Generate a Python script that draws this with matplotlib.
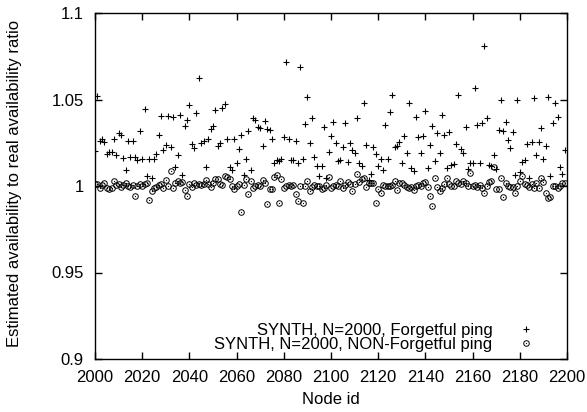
import matplotlib
matplotlib.use("Agg")
import matplotlib.pyplot as plt
from matplotlib.lines import Line2D
from matplotlib.legend_handler import HandlerTuple

plt.rcParams['font.family'] = ['Liberation Sans', 'DejaVu Sans']

# ---- data ----
forget_nodes = [2000, 2001, 2002, 2003, 2004, 2005, 2006, 2007, 2008, 2009,
                2010, 2011, 2012, 2013, 2014, 2015, 2016, 2017, 2018, 2019,
                2020, 2021, 2022, 2023, 2024, 2025, 2026, 2027, 2028, 2029,
                2030, 2031, 2032, 2033, 2034, 2035, 2036, 2037, 2038, 2039,
                2040, 2041, 2042, 2043, 2044, 2045, 2046, 2047, 2048, 2049,
                2050, 2051, 2052, 2053, 2054, 2055, 2056, 2057, 2058, 2059,
                2060, 2061, 2062, 2063, 2064, 2065, 2066, 2067, 2068, 2069,
                2070, 2071, 2072, 2073, 2074, 2075, 2076, 2077, 2078, 2079,
                2080, 2081, 2082, 2083, 2084, 2085, 2086, 2087, 2088, 2089,
                2090, 2091, 2092, 2093, 2094, 2095, 2096, 2097, 2098, 2099,
                2100, 2101, 2102, 2103, 2104, 2105, 2106, 2107, 2108, 2109,
                2110, 2111, 2112, 2113, 2114, 2115, 2116, 2117, 2118, 2119,
                2120, 2121, 2122, 2123, 2124, 2125, 2126, 2127, 2128, 2129,
                2130, 2131, 2132, 2133, 2134, 2135, 2136, 2137, 2138, 2139,
                2140, 2141, 2142, 2143, 2144, 2145, 2146, 2147, 2148, 2149,
                2150, 2151, 2152, 2153, 2154, 2155, 2156, 2157, 2158, 2159,
                2160, 2161, 2162, 2163, 2164, 2165, 2166, 2167, 2168, 2169,
                2170, 2171, 2172, 2173, 2174, 2175, 2176, 2177, 2178, 2179,
                2180, 2181, 2182, 2183, 2184, 2185, 2186, 2187, 2188, 2189,
                2190, 2191, 2192, 2193, 2194, 2195, 2196, 2197, 2198, 2199]
forget_vals = [1.0202, 1.0523, 1.0262, 1.0272, 1.0256, 1.0183, 1.0195, 1.0198, 1.0272, 1.0179,
               1.0304, 1.0295, 1.0160, 1.0092, 1.0260, 1.0170, 1.0262, 1.0170, 1.0150, 1.0320,
               1.0154, 1.0443, 1.0058, 1.0158, 1.0044, 1.0158, 1.0183, 1.0295, 1.0405, 1.0208,
               1.0237, 1.0405, 1.0224, 1.0400, 1.0108, 1.0178, 1.0410, 1.0064, 1.0347, 1.0380,
               1.0468, 1.0243, 1.0222, 1.0424, 1.0622, 1.0247, 1.0260, 1.0112, 1.0272, 1.0330,
               1.0349, 1.0439, 1.0231, 1.0250, 1.0449, 1.0472, 1.0274, 1.0112, 1.0095, 1.0274,
               1.0131, 1.0212, 1.0295, 1.0064, 1.0158, 1.0318, 1.0092, 1.0391, 1.0382, 1.0339,
               1.0335, 1.0233, 1.0378, 1.0328, 1.0324, 1.0272, 1.0131, 1.0148, 1.0146, 1.0154,
               1.0285, 1.0719, 1.0272, 1.0150, 1.0150, 1.0260, 1.0131, 1.0686, 1.0154, 1.0356,
               1.0513, 1.0247, 1.0391, 1.0166, 1.0116, 1.0060, 1.0116, 1.0339, 1.0044, 1.0198,
               1.0291, 1.0372, 1.0250, 1.0146, 1.0150, 1.0227, 1.0362, 1.0141, 1.0250, 1.0208,
               1.0193, 1.0391, 1.0131, 1.0116, 1.0482, 1.0237, 1.0035, 1.0069, 1.0224, 1.0185,
               1.0118, 1.0154, 1.0092, 1.0353, 1.0154, 1.0430, 1.0526, 1.0227, 1.0231, 1.0256,
               1.0135, 1.0289, 1.0189, 1.0478, 1.0102, 1.0089, 1.0401, 1.0281, 1.0189, 1.0289,
               1.0435, 1.0102, 1.0237, 1.0347, 1.0146, 1.0304, 1.0189, 1.0410, 1.0293, 1.0102,
               1.0314, 1.0121, 1.0127, 1.0243, 1.0526, 1.0212, 1.0189, 1.0343, 1.0096, 1.0131,
               1.0131, 1.0568, 1.0353, 1.0131, 1.0362, 1.0810, 1.0391, 1.0121, 1.0116, 1.0179,
               1.0096, 1.0324, 1.0497, 1.0318, 1.0372, 1.0266, 1.0218, 1.0314, 1.0064, 1.0497,
               1.0083, 1.0141, 1.0150, 1.0243, 1.0044, 1.0256, 1.0507, 1.0179, 1.0256, 1.0333,
               1.0154, 1.0231, 1.0513, 1.0058, 1.0362, 1.0482, 1.0401, 1.0108, 1.0069, 1.0208]

nonforget_nodes = list(range(2000, 2200))
nonforget_vals = [1.0010, 1.0010, 0.9987, 1.0006, 1.0015, 0.9987, 0.9980, 0.9987, 1.0030, 1.0006,
                  1.0010, 0.9996, 1.0006, 1.0020, 1.0000, 0.9996, 1.0006, 0.9942, 1.0000, 1.0010,
                  1.0000, 1.0010, 1.0020, 0.9919, 0.9973, 0.9987, 0.9996, 1.0006, 1.0010, 0.9987,
                  1.0035, 1.0000, 1.0087, 0.9987, 1.0020, 1.0030, 1.0020, 1.0025, 0.9977, 0.9942,
                  1.0010, 0.9996, 1.0020, 1.0006, 1.0010, 1.0006, 1.0010, 1.0035, 1.0010, 0.9992,
                  1.0020, 1.0040, 1.0039, 1.0010, 1.0006, 1.0058, 1.0054, 1.0039, 1.0000, 0.9980,
                  1.0000, 1.0010, 0.9852, 1.0006, 1.0039, 0.9954, 1.0030, 0.9987, 1.0000, 1.0006,
                  1.0000, 1.0035, 1.0015, 0.9895, 0.9985, 0.9980, 1.0050, 1.0064, 0.9904, 1.0039,
                  0.9987, 1.0000, 1.0006, 1.0000, 1.0006, 0.9954, 0.9915, 1.0000, 0.9900, 1.0000,
                  1.0030, 0.9973, 0.9996, 1.0006, 1.0000, 1.0000, 0.9980, 0.9987, 1.0006, 1.0054,
                  0.9987, 1.0000, 1.0006, 1.0000, 1.0030, 0.9987, 1.0006, 1.0025, 1.0010, 0.9973,
                  1.0010, 1.0067, 1.0025, 1.0039, 1.0044, 0.9992, 1.0015, 1.0020, 1.0015, 0.9904,
                  0.9980, 0.9961, 1.0006, 1.0000, 1.0000, 1.0000, 1.0006, 1.0030, 0.9977, 1.0015,
                  1.0015, 1.0006, 0.9996, 0.9987, 0.9996, 0.9977, 1.0000, 1.0006, 1.0000, 1.0020,
                  1.0025, 0.9996, 0.9942, 0.9884, 1.0044, 0.9996, 0.9973, 0.9987, 1.0010, 1.0044,
                  1.0010, 1.0000, 1.0000, 1.0030, 1.0020, 1.0010, 1.0030, 1.0020, 1.0000, 1.0073,
                  1.0000, 1.0006, 0.9996, 1.0006, 0.9987, 0.9961, 1.0000, 1.0025, 1.0030, 1.0108,
                  0.9980, 0.9980, 1.0044, 0.9938, 1.0015, 1.0000, 0.9992, 0.9992, 0.9958, 1.0000,
                  1.0030, 1.0058, 1.0010, 1.0006, 0.9992, 1.0010, 0.9987, 1.0015, 0.9987, 1.0044,
                  1.0025, 0.9961, 0.9929, 0.9938, 1.0000, 1.0000, 0.9987, 1.0000, 1.0015, 1.0015]

label_forget = "SYNTH, N=2000, Forgetful ping"
label_nonforget = "SYNTH, N=2000, NON-Forgetful ping"
x_ticks = [2000, 2020, 2040, 2060, 2080, 2100, 2120, 2140, 2160, 2180, 2200]
y_ticks = [0.9, 0.95, 1.0, 1.05, 1.1]
y_ticklabels = ["0.9", "0.95", "1", "1.05", "1.1"]

# ---- figure ----
W, H = 587, 412
fig = plt.figure(figsize=(W / 100, H / 100), dpi=100)
ax = fig.add_axes([95 / W, 1 - 359 / H, 472 / W, 346 / H])

ax.plot(forget_nodes, forget_vals, linestyle='none', marker='+',
        markersize=5, markeredgewidth=0.8, color='black')
ax.plot(nonforget_nodes, nonforget_vals, linestyle='none', marker='o',
        markersize=4, markeredgewidth=0.7, markerfacecolor='none',
        markeredgecolor='black')
ax.plot(nonforget_nodes, nonforget_vals, linestyle='none', marker='o',
        markersize=0.9, markeredgewidth=0, color='black')

ax.set_xlim(2000, 2200)
ax.set_ylim(0.9, 1.1)
ax.set_xticks(x_ticks)
ax.set_xticklabels([str(t) for t in x_ticks])
ax.set_yticks(y_ticks)
ax.set_yticklabels(y_ticklabels)

ax.tick_params(direction='in', length=5, width=1, top=True, right=True,
               labelsize=12, colors='black')
ax.tick_params(axis='x', pad=8)
ax.tick_params(axis='y', pad=8)
for s in ax.spines.values():
    s.set_linewidth(1)

ax.set_xlabel("Node id", fontsize=12, labelpad=5)
fig.text(15 / W, 1 - 183 / H, "Estimated availability to real availability ratio",
         rotation=90, ha='center', va='center', fontsize=12)

h_plus = Line2D([], [], linestyle='none', marker='+', markersize=4.5,
                markeredgewidth=0.8, color='black')
h_circ = Line2D([], [], linestyle='none', marker='o', markersize=4,
                markeredgewidth=0.7, markerfacecolor='none', markeredgecolor='black')
h_dot = Line2D([], [], linestyle='none', marker='o', markersize=0.9,
               markeredgewidth=0, color='black')
leg = ax.legend([h_plus, (h_circ, h_dot)], [label_forget, label_nonforget],
                handler_map={tuple: HandlerTuple(ndivide=1)},
                loc='lower right', bbox_to_anchor=(0.948, 0.021),
                markerfirst=False, frameon=False, fontsize=12,
                borderpad=0, borderaxespad=0, handlelength=2.0,
                handletextpad=0.99, labelspacing=-0.05)
for t in leg.get_texts():
    t.set_ha('right')

fig.savefig("out.png", dpi=100)
